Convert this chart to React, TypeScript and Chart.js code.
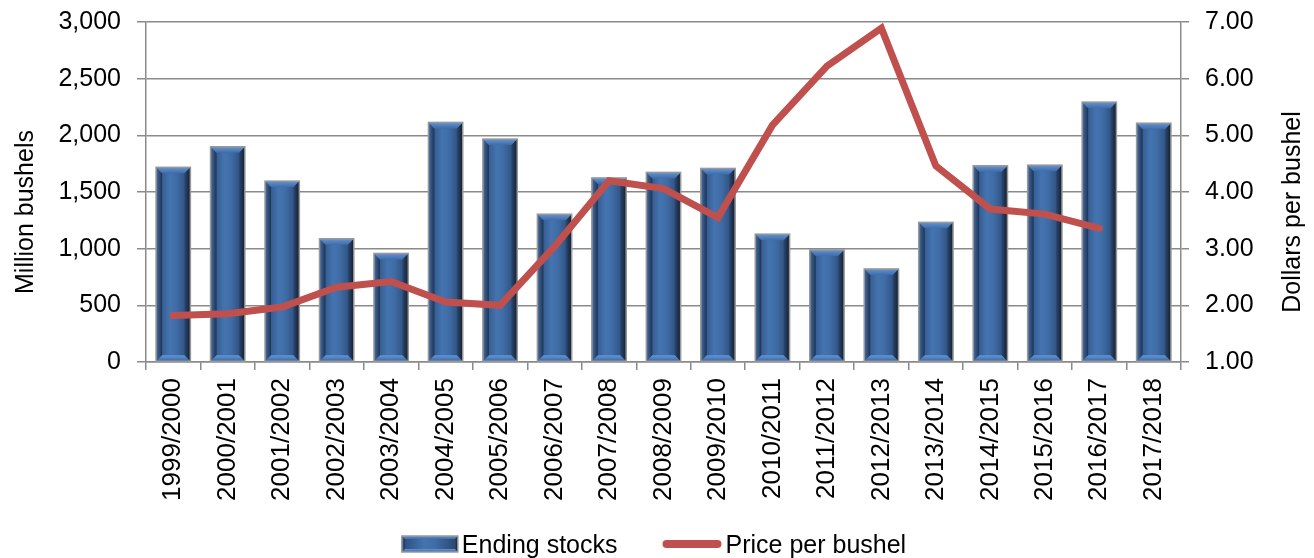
import React, { useEffect, useRef } from "react";
import { Chart, registerables } from "chart.js";

Chart.register(...registerables);

const categories = [
  "1999/2000", "2000/2001", "2001/2002", "2002/2003", "2003/2004",
  "2004/2005", "2005/2006", "2006/2007", "2007/2008", "2008/2009",
  "2009/2010", "2010/2011", "2011/2012", "2012/2013", "2013/2014",
  "2014/2015", "2015/2016", "2016/2017", "2017/2018",
];

const endingStocks = [
  1718, 1899, 1596, 1087, 958, 2114, 1967, 1304, 1624, 1673,
  1708, 1128, 989, 821, 1232, 1731, 1737, 2293, 2107,
];

const pricePerBushel: (number | null)[] = [
  1.82, 1.85, 1.97, 2.32, 2.42, 2.06, 2.0, 3.04, 4.2, 4.06,
  3.55, 5.18, 6.22, 6.89, 4.46, 3.7, 3.61, 3.36, null,
];

const seriesLabels = ["Ending stocks", "Price per bushel"];
const leftAxisTitle = "Million bushels";
const rightAxisTitle = "Dollars per bushel";

const FONT = "'Liberation Sans', Arial, Helvetica, sans-serif";
const FONT_SIZE = 25;
const GRID = "#8a8a8a";
const LINE_COLOR = "#C0504D";

function poly(ctx: CanvasRenderingContext2D, pts: number[][], fill: string | CanvasGradient) {
  ctx.beginPath();
  ctx.moveTo(pts[0][0], pts[0][1]);
  for (let i = 1; i < pts.length; i++) ctx.lineTo(pts[i][0], pts[i][1]);
  ctx.closePath();
  ctx.fillStyle = fill;
  ctx.fill();
}

function drawBevel(ctx: CanvasRenderingContext2D, x0: number, y0: number, x1: number, y1: number, bev: number) {
  const w = x1 - x0;
  const h = y1 - y0;
  if (w <= 0 || h <= 0) return;
  const b = Math.min(bev, w / 3, h / 3);
  // inner face
  const g = ctx.createLinearGradient(x0, 0, x1, 0);
  g.addColorStop(0, "#2b4c7a");
  g.addColorStop(0.4, "#4474b0");
  g.addColorStop(0.6, "#3f6ca6");
  g.addColorStop(1, "#27446c");
  ctx.fillStyle = g;
  ctx.fillRect(x0, y0, w, h);
  // left face
  const gl = ctx.createLinearGradient(x0, 0, x0 + b, 0);
  gl.addColorStop(0, "#456ea4");
  gl.addColorStop(1, "#1d3353");
  poly(ctx, [[x0, y0], [x0 + b, y0 + b], [x0 + b, y1 - b], [x0, y1]], gl);
  // right face
  const gr = ctx.createLinearGradient(x1 - b, 0, x1, 0);
  gr.addColorStop(0, "#2c4a74");
  gr.addColorStop(1, "#131d2d");
  poly(ctx, [[x1, y0], [x1 - b, y0 + b], [x1 - b, y1 - b], [x1, y1]], gr);
  // top face
  const gt = ctx.createLinearGradient(0, y0, 0, y0 + b);
  gt.addColorStop(0, "#6494d4");
  gt.addColorStop(1, "#3f6ca8");
  poly(ctx, [[x0, y0], [x1, y0], [x1 - b, y0 + b], [x0 + b, y0 + b]], gt);
  // bottom face
  const gb = ctx.createLinearGradient(0, y1 - b, 0, y1);
  gb.addColorStop(0, "#6396d8");
  gb.addColorStop(1, "#3b67a3");
  poly(ctx, [[x0, y1], [x0 + b, y1 - b], [x1 - b, y1 - b], [x1, y1]], gb);
  // outline
  ctx.strokeStyle = "#999999";
  ctx.lineWidth = 1.5;
  ctx.strokeRect(x0, y0, w, h);
}

const bevelPlugin = {
  id: "bevelBars",
  afterDatasetDraw(chart: any, args: any) {
    const ds = chart.data.datasets[args.index];
    if (ds.type !== "bar") return;
    const ctx: CanvasRenderingContext2D = chart.ctx;
    ctx.save();
    args.meta.data.forEach((el: any) => {
      const p = el.getProps(["x", "y", "base", "width"], true);
      drawBevel(ctx, p.x - p.width / 2, p.y, p.x + p.width / 2, p.base, 6);
    });
    ctx.restore();
  },
};

const decorPlugin = {
  id: "decor",
  afterDraw(chart: any) {
    const ctx: CanvasRenderingContext2D = chart.ctx;
    const area = chart.chartArea;
    const midY = (area.top + area.bottom) / 2 + 20;
    ctx.save();
    ctx.fillStyle = "#000";
    ctx.font = `${FONT_SIZE}px ${FONT}`;
    ctx.textAlign = "center";
    ctx.textBaseline = "alphabetic";
    // left axis title
    ctx.save();
    ctx.translate(33, midY);
    ctx.rotate(-Math.PI / 2);
    ctx.fillText(leftAxisTitle, 0, 0);
    ctx.restore();
    // right axis title
    ctx.save();
    ctx.translate(chart.width - 14, midY);
    ctx.rotate(-Math.PI / 2);
    ctx.fillText(rightAxisTitle, 0, 0);
    ctx.restore();

    // legend
    const t1 = chart.data.datasets[0].label as string;
    const t2 = chart.data.datasets[1].label as string;
    const boxW = 56, boxH = 16, lineW = 59, gapText = 4, gapItems = 45;
    const w1 = ctx.measureText(t1).width;
    const w2 = ctx.measureText(t2).width;
    const total = boxW + gapText + w1 + gapItems + lineW + gapText + w2;
    let x = (chart.width - total) / 2 - 3;
    const cy = 544;
    drawBevel(ctx, x, cy - boxH / 2, x + boxW, cy + boxH / 2, 3);
    x += boxW + gapText;
    ctx.textAlign = "left";
    ctx.fillStyle = "#000";
    ctx.fillText(t1, x, cy + 9);
    x += w1 + gapItems;
    ctx.beginPath();
    ctx.strokeStyle = LINE_COLOR;
    ctx.lineWidth = 8;
    ctx.lineCap = "round";
    ctx.moveTo(x + 4, cy);
    ctx.lineTo(x + lineW - 4, cy);
    ctx.stroke();
    x += lineW + gapText;
    ctx.fillText(t2, x, cy + 9);
    ctx.restore();
  },
};

export default function App() {
  const canvasRef = useRef<HTMLCanvasElement | null>(null);

  useEffect(() => {
    document.body.style.margin = "0";
    const canvas = canvasRef.current;
    if (!canvas) return;
    const font = { family: FONT, size: FONT_SIZE };
    const chart = new Chart(canvas, {
      type: "bar",
      data: {
        labels: categories,
        datasets: [
          {
            type: "bar",
            label: seriesLabels[0],
            data: endingStocks,
            backgroundColor: "#3a6398",
            borderWidth: 0,
            yAxisID: "y",
            order: 1,
            barPercentage: 0.63,
            categoryPercentage: 1,
          } as any,
          {
            type: "line",
            label: seriesLabels[1],
            data: pricePerBushel,
            borderColor: LINE_COLOR,
            backgroundColor: LINE_COLOR,
            borderWidth: 7,
            pointRadius: 0,
            pointHoverRadius: 0,
            tension: 0,
            borderCapStyle: "round",
            borderJoinStyle: "miter",
            spanGaps: false,
            yAxisID: "y1",
            order: 0,
          } as any,
        ],
      },
      options: {
        animation: false,
        responsive: false,
        devicePixelRatio: 1,
        layout: { padding: { top: 22, left: 0, right: 0, bottom: 0 } },
        plugins: {
          legend: { display: false },
          tooltip: { enabled: false },
          title: { display: false },
        },
        scales: {
          x: {
            offset: true,
            grid: {
              display: true,
              drawOnChartArea: false,
              drawTicks: true,
              tickLength: 8,
              color: GRID,
              lineWidth: 1.5,
              offset: true,
            },
            border: { display: true, color: GRID, width: 1.5 },
            ticks: {
              minRotation: 90,
              maxRotation: 90,
              autoSkip: false,
              color: "#000",
              font: { family: FONT, size: 26 },
              padding: 8,
            },
            afterFit: (s: any) => {
              s.height = 196;
              s.paddingLeft = 0;
              s.paddingRight = 0;
            },
          },
          y: {
            position: "left",
            min: 0,
            max: 3000,
            ticks: {
              stepSize: 500,
              color: "#000",
              font,
              padding: 16,
              callback: (v: any) => Number(v).toLocaleString("en-US"),
            },
            grid: {
              color: GRID,
              lineWidth: 1.5,
              drawTicks: true,
              tickLength: 9,
            },
            border: { display: true, color: GRID, width: 1.5 },
            afterFit: (s: any) => {
              s.width = 146;
              s.paddingTop = 0;
              s.paddingBottom = 0;
            },
          },
          y1: {
            position: "right",
            min: 1,
            max: 7,
            ticks: {
              stepSize: 1,
              color: "#000",
              font,
              padding: 16,
              callback: (v: any) => Number(v).toFixed(2),
            },
            grid: {
              drawOnChartArea: false,
              color: GRID,
              lineWidth: 1.5,
              drawTicks: true,
              tickLength: 8,
            },
            border: { display: true, color: GRID, width: 1.5 },
            afterFit: (s: any) => {
              s.width = 133;
              s.paddingTop = 0;
              s.paddingBottom = 0;
            },
          },
        },
      } as any,
      plugins: [bevelPlugin, decorPlugin],
    });
    return () => chart.destroy();
  }, []);

  return (
    <div style={{ position: "absolute", left: 0, top: 0, width: 1314, height: 558, background: "#fff" }}>
      <canvas ref={canvasRef} width={1314} height={558} style={{ width: 1314, height: 558, display: "block" }} />
    </div>
  );
}
